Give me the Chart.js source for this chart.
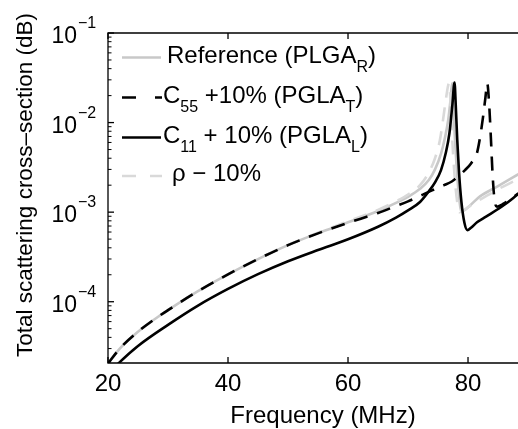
<!DOCTYPE html>
<html>
<head>
<meta charset="utf-8">
<script src="https://cdn.jsdelivr.net/npm/chart.js@4.4.1/dist/chart.umd.min.js"></script>
<style>
  html, body { margin: 0; padding: 0; background: #fff; }
  canvas { display: block; }
</style>
</head>
<body>
<canvas id="myChart" width="518" height="429"></canvas>
<script>
// values (frequency in MHz, cross-section)
var freqRef = [20, 22, 25, 28, 30, 35, 40, 45, 50, 55, 60, 65, 68, 70, 72, 73.5, 74.5, 75.5, 76.2, 76.7, 77.05, 77.35, 77.55, 77.8, 78.1, 78.5, 78.9, 79.4, 80.3, 82, 85, 88.4];
var valRef  = [2.04e-5, 3.02e-5, 4.63e-5, 6.55e-5, 8.05e-5, 1.31e-4, 2.02e-4, 2.99e-4, 4.28e-4, 5.83e-4, 7.7e-4, 1.03e-3, 1.27e-3, 1.48e-3, 1.82e-3, 2.3e-3, 3.0e-3, 4.5e-3, 7.0e-3, 1.07e-2, 1.7e-2, 2.75e-2, 1.6e-2, 7.0e-3, 3.2e-3, 1.5e-3, 1.02e-3, 1.05e-3, 1.18e-3, 1.5e-3, 1.95e-3, 2.65e-3];

var freqC55 = [20, 22, 25, 28, 30, 35, 40, 45, 50, 55, 60, 65, 68, 70, 72, 74, 76, 77.3, 78.5, 79.5, 80.5, 81.5, 82, 82.5, 82.9, 83.2, 83.5, 83.8, 84.1, 84.4, 84.8, 86, 88.4];
var valC55  = [2.04e-5, 3.02e-5, 4.63e-5, 6.55e-5, 8.05e-5, 1.31e-4, 2.02e-4, 2.99e-4, 4.28e-4, 5.8e-4, 7.6e-4, 9.8e-4, 1.17e-3, 1.32e-3, 1.52e-3, 1.75e-3, 2.0e-3, 2.2e-3, 2.55e-3, 2.95e-3, 3.5e-3, 4.6e-3, 6.8e-3, 1.15e-2, 1.9e-2, 2.75e-2, 1.7e-2, 7.0e-3, 2.6e-3, 1.4e-3, 1.15e-3, 1.25e-3, 1.62e-3];

var freqC11 = [20, 21.7, 25, 30, 35, 40, 45, 50, 55, 60, 65, 68, 70, 72, 73.5, 74.5, 75.5, 76.3, 76.9, 77.4, 77.75, 77.95, 78.2, 78.5, 78.9, 79.4, 79.9, 80.5, 81.5, 83, 86, 88.4];
var valC11  = [1.55e-5, 2.04e-5, 3.21e-5, 5.52e-5, 9.06e-5, 1.39e-4, 2.03e-4, 2.83e-4, 3.78e-4, 4.98e-4, 6.87e-4, 8.69e-4, 1.045e-3, 1.3e-3, 1.72e-3, 2.15e-3, 2.95e-3, 4.6e-3, 7.6e-3, 1.6e-2, 2.8e-2, 1.6e-2, 6.5e-3, 2.8e-3, 1.3e-3, 7.6e-4, 6.3e-4, 6.7e-4, 7.7e-4, 8.9e-4, 1.2e-3, 1.6e-3];

var freqRho = [20, 22, 25, 28, 30, 35, 40, 45, 50, 55, 60, 65, 68, 70, 72, 73.5, 74.5, 75.3, 75.9, 76.3, 76.85, 77.1, 77.4, 77.75, 78.2, 78.6, 79.3, 80.5, 82, 85, 88.4];
var valRho  = [2.04e-5, 3.02e-5, 4.63e-5, 6.55e-5, 8.05e-5, 1.31e-4, 2.02e-4, 2.99e-4, 4.3e-4, 5.9e-4, 7.9e-4, 1.06e-3, 1.32e-3, 1.57e-3, 2.0e-3, 2.8e-3, 4.0e-3, 6.3e-3, 1.15e-2, 1.8e-2, 2.75e-2, 1.6e-2, 6.0e-3, 2.6e-3, 1.3e-3, 1.0e-3, 1.05e-3, 1.2e-3, 1.38e-3, 1.8e-3, 2.35e-3];

var xTicks = [20, 40, 60, 80];
var yTicks = [1e-1, 1e-2, 1e-3, 1e-4];
var yTickExp = ['\u22121', '\u22122', '\u22123', '\u22124'];

var FONT = "'Liberation Sans', Arial, sans-serif";

function pts(fx, fy) {
  var out = [];
  for (var i = 0; i < fx.length; i++) out.push({x: fx[i], y: fy[i]});
  return out;
}

// draw text pieces, [text, isSub]
function drawRich(ctx, x, y, pieces, size, subSize, subDrop) {
  ctx.textAlign = 'left';
  ctx.textBaseline = 'alphabetic';
  for (var i = 0; i < pieces.length; i++) {
    var p = pieces[i];
    ctx.font = (p[1] ? subSize : size) + 'px ' + FONT;
    ctx.fillText(p[0], x, p[1] ? y + subDrop : y);
    x += ctx.measureText(p[0]).width;
  }
}

var axesPlugin = {
  id: 'matlabAxes',
  afterDatasetsDraw: function(chart) {
    var ctx = chart.ctx, a = chart.chartArea;
    var xs = chart.scales.x, ys = chart.scales.y;
    ctx.save();
    ctx.strokeStyle = '#000';
    ctx.fillStyle = '#000';
    ctx.lineWidth = 1.3;
    ctx.beginPath();
    ctx.moveTo(a.right + 2, a.top);
    ctx.lineTo(a.left, a.top);
    ctx.lineTo(a.left, a.bottom);
    ctx.lineTo(a.right + 2, a.bottom);
    ctx.stroke();

    // x ticks
    ctx.font = '24px ' + FONT;
    ctx.textAlign = 'center';
    ctx.textBaseline = 'alphabetic';
    for (var i = 0; i < xTicks.length; i++) {
      var px = xs.getPixelForValue(xTicks[i]);
      ctx.beginPath();
      ctx.moveTo(px, a.bottom); ctx.lineTo(px, a.bottom - 6);
      ctx.moveTo(px, a.top); ctx.lineTo(px, a.top + 6);
      ctx.stroke();
      ctx.fillText(String(xTicks[i]), px, a.bottom + 28);
    }

    // y ticks, major + minor
    ctx.lineWidth = 1;
    for (var d = -5; d <= -2; d++) {
      for (var m = 2; m <= 9; m++) {
        var v = m * Math.pow(10, d);
        if (v < ys.min || v > ys.max) continue;
        var py = ys.getPixelForValue(v);
        ctx.beginPath(); ctx.moveTo(a.left, py); ctx.lineTo(a.left + 3.5, py); ctx.stroke();
      }
    }
    ctx.lineWidth = 1.3;
    for (var j = 0; j < yTicks.length; j++) {
      var ty = ys.getPixelForValue(yTicks[j]);
      ctx.beginPath(); ctx.moveTo(a.left, ty); ctx.lineTo(a.left + 6, ty); ctx.stroke();
      ctx.font = '23px ' + FONT;
      ctx.textAlign = 'right';
      ctx.fillText('10', 77, ty + 10);
      ctx.font = '16px ' + FONT;
      ctx.textAlign = 'left';
      ctx.fillText(yTickExp[j], 78, ty - 5);
    }

    // axis titles
    ctx.font = '24px ' + FONT;
    ctx.textAlign = 'center';
    ctx.fillText('Frequency (MHz)', 323, 423);
    ctx.save();
    ctx.translate(32, 185);
    ctx.rotate(-Math.PI / 2);
    ctx.font = '22.5px ' + FONT;
    ctx.fillText('Total scattering cross\u2013section (dB)', 0, 0);
    ctx.restore();

    // legend
    ctx.lineWidth = 2.5;
    ctx.strokeStyle = '#c8c8c8';
    ctx.beginPath(); ctx.moveTo(122, 57.5); ctx.lineTo(161, 57.5); ctx.stroke();
    ctx.strokeStyle = '#000';
    ctx.beginPath(); ctx.moveTo(122, 97.5); ctx.lineTo(136, 97.5); ctx.moveTo(155, 97.5); ctx.lineTo(162, 97.5); ctx.stroke();
    ctx.beginPath(); ctx.moveTo(122, 137.5); ctx.lineTo(161, 137.5); ctx.stroke();
    ctx.strokeStyle = '#d9d9d9';
    ctx.beginPath(); ctx.moveTo(122, 176); ctx.lineTo(136, 176); ctx.moveTo(150, 176); ctx.lineTo(162, 176); ctx.stroke();

    drawRich(ctx, 167, 62.5, [['Reference (PLGA', 0], ['R', 1], [')', 0]], 24, 16, 9);
    drawRich(ctx, 163, 102.5, [['C', 0], ['55', 1], [' +10% (PGLA', 0], ['T', 1], [')', 0]], 24, 16, 9);
    drawRich(ctx, 163, 142.5, [['C', 0], ['11', 1], [' + 10% (PGLA', 0], ['L', 1], [')', 0]], 24, 16, 9);
    drawRich(ctx, 172, 181, [['\u03c1 \u2212 10%', 0]], 24, 16, 9);
    ctx.restore();
  }
};

var data = {
  datasets: [
    { label: 'C11 + 10% (PGLA_L)', data: pts(freqC11, valC11), borderColor: '#000', borderWidth: 2.6, order: 0 },
    { label: 'C55 +10% (PGLA_T)', data: pts(freqC55, valC55), borderColor: '#000', borderWidth: 2.6, borderDash: [14, 10], order: 1 },
    { label: 'rho - 10%', data: pts(freqRho, valRho), borderColor: '#d9d9d9', borderWidth: 2.6, borderDash: [14, 10], order: 2 },
    { label: 'Reference (PLGA_R)', data: pts(freqRef, valRef), borderColor: '#c8c8c8', borderWidth: 2.6, order: 3 }
  ]
};

var config = {
  type: 'line',
  data: data,
  options: {
    responsive: false,
    animation: false,
    layout: { padding: { left: 108, top: 33, right: 0, bottom: 66 } },
    elements: { point: { radius: 0 }, line: { cubicInterpolationMode: 'monotone', fill: false } },
    plugins: { legend: { display: false }, tooltip: { enabled: false } },
    scales: {
      x: { type: 'linear', min: 20, max: 88.33, display: false },
      y: { type: 'logarithmic', min: 2.07e-5, max: 0.1, display: false }
    }
  },
  plugins: [axesPlugin]
};

var myChart = new Chart(document.getElementById('myChart'), config);
</script>
</body>
</html>
